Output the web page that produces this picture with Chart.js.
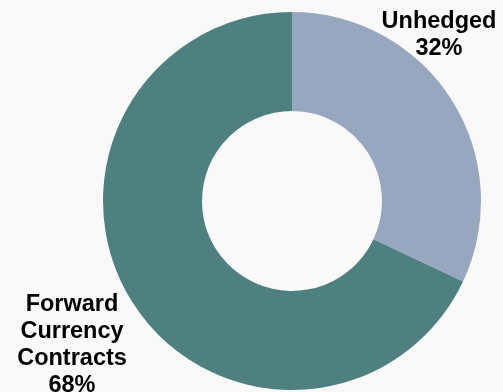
<!DOCTYPE html>
<html>
<head>
<meta charset="utf-8">
<script src="https://cdn.jsdelivr.net/npm/chart.js@4/dist/chart.umd.min.js"></script>
<style>
html,body{margin:0;padding:0;background:#f9f9f9;}
#wrap{width:503px;height:392px;}
</style>
</head>
<body>
<div id="wrap"><canvas id="c" width="503" height="392"></canvas></div>
<script>
const categories = ['Unhedged', 'Forward Currency Contracts'];
const values = [32, 68];
const labelLines = [['Unhedged', '32%'], ['Forward', 'Currency', 'Contracts', '68%']];
const colors = ['#97a7bf', '#4f8080'];

const labelPlugin = {
  id: 'sliceLabels',
  afterDraw(chart) {
    const ctx = chart.ctx;
    ctx.save();
    ctx.font = 'bold 23.5px "Liberation Sans", Arial, sans-serif';
    ctx.fillStyle = '#000';
    ctx.textAlign = 'center';
    ctx.textBaseline = 'alphabetic';
    const anchors = [{x: 439, y: 28}, {x: 72, y: 311}];
    labelLines.forEach((lines, i) => {
      lines.forEach((t, j) => ctx.fillText(t, anchors[i].x, anchors[i].y + j * 27));
    });
    ctx.restore();
  }
};

new Chart(document.getElementById('c'), {
  type: 'doughnut',
  data: {
    labels: categories,
    datasets: [{
      data: values,
      backgroundColor: colors,
      borderWidth: 0,
      hoverOffset: 0,
      offset: 0
    }]
  },
  options: {
    responsive: false,
    animation: false,
    cutout: '47.6%',
    layout: {padding: {left: 103, right: 22, top: 12, bottom: 2}},
    plugins: {legend: {display: false}, tooltip: {enabled: false}}
  },
  plugins: [labelPlugin]
});
</script>
</body>
</html>
